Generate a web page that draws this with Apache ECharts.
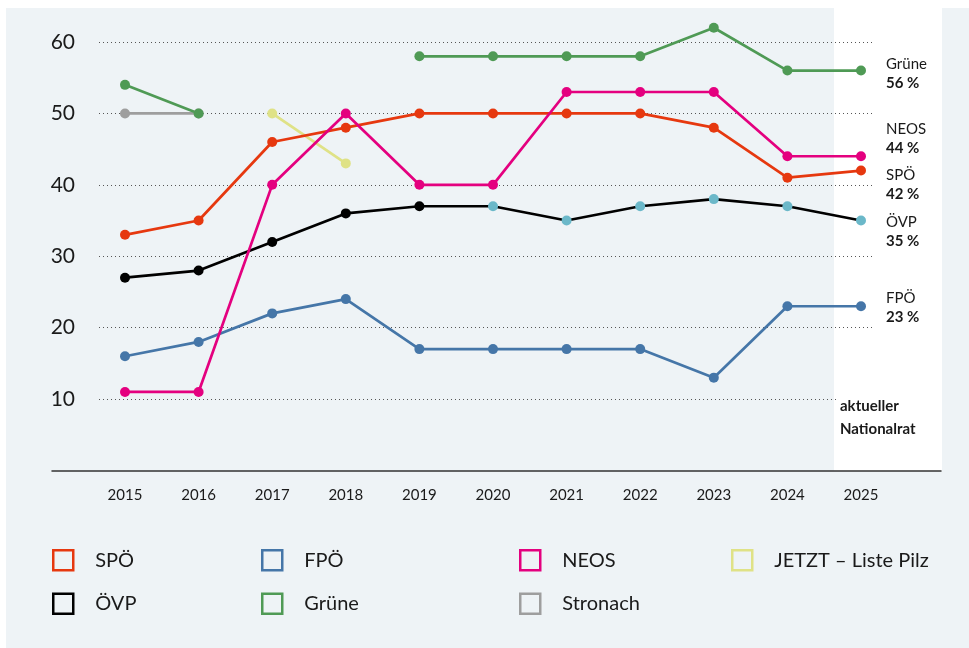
<!DOCTYPE html>
<html>
<head>
<meta charset="utf-8">
<script src="https://cdn.jsdelivr.net/npm/echarts@6/dist/echarts.min.js"></script>
<style>
  html, body { margin: 0; padding: 0; background: #fff; }
  #chart { width: 969px; height: 648px; }
</style>
</head>
<body>
<div id="chart"></div>
<script>
// Umfragewerte je Jahr (Prozent)
const years = ['2015', '2016', '2017', '2018', '2019', '2020', '2021', '2022', '2023', '2024', '2025'];
const spoe = [33, 35, 46, 48, 50, 50, 50, 50, 48, 41, 42];
const oevp = [27, 28, 32, 36, 37, 37, 35, 37, 38, 37, 35];
const fpoe = [16, 18, 22, 24, 17, 17, 17, 17, 13, 23, 23];
const neos = [11, 11, 40, 50, 40, 40, 53, 53, 53, 44, 44];
const gruene = [54, 50, null, null, 58, 58, 58, 58, 62, 56, 56];
const stronach = [50, 50, null, null, null, null, null, null, null, null, null];
const jetzt = [null, null, 50, 43, null, null, null, null, null, null, null];
// ab 2020 türkise Punkte bei der ÖVP
const oevpTuerkisFrom = '2020';

const font = 'Lato';
const textColor = '#1a1a1a';
const colors = {
  'SPÖ': '#e6380f',
  'ÖVP': '#000000',
  'FPÖ': '#4576a8',
  'Grüne': '#4f9a55',
  'NEOS': '#e4007f',
  'Stronach': '#9e9e9e',
  'JETZT – Liste Pilz': '#dfe286'
};
const tuerkis = '#6bb8c9';

// vertikale Versetzung der Endbeschriftungen
const endLabelShift = { 'Grüne': 3, 'NEOS': -18, 'SPÖ': 14, 'ÖVP': 11, 'FPÖ': 1 };

const chart = echarts.init(document.getElementById('chart'), null, { renderer: 'canvas' });

const gridTop = 42, gridBottom = 177.5;

function endLabel(name) {
  return {
    show: true,
    position: 'right',
    distance: 20,
    offset: [0, endLabelShift[name]],
    formatter: p => '{a|' + p.seriesName + '}\n{b|' + p.value + ' %}',
    rich: {
      a: { fontFamily: font, fontSize: 15, color: textColor, lineHeight: 19 },
      b: { fontFamily: font, fontSize: 15, fontWeight: 'bold', color: textColor, lineHeight: 19 }
    }
  };
}

function makeSeries(name, values) {
  const last = values.length - 1;
  const data = values.map((v, i) => {
    const item = { value: v };
    if (name === 'ÖVP' && years[i] >= oevpTuerkisFrom) item.itemStyle = { color: tuerkis };
    if (endLabelShift[name] !== undefined && i === last) item.label = endLabel(name);
    return item;
  });
  return {
    name: name,
    type: 'line',
    xAxisIndex: 1,
    yAxisIndex: 1,
    data: data,
    symbol: 'circle',
    symbolSize: 10,
    showAllSymbol: true,
    clip: false,
    connectNulls: false,
    color: colors[name],
    lineStyle: { width: 2.7, color: colors[name] },
    itemStyle: { color: colors[name] },
    emphasis: { disabled: true }
  };
}

const legendBase = {
  orient: 'vertical',
  top: 549,
  padding: 0,
  icon: 'rect',
  itemWidth: 20,
  itemHeight: 20,
  itemGap: 21,
  selectedMode: false,
  textStyle: { fontFamily: font, fontSize: 20, color: textColor, padding: [0, 0, 0, 17] }
};
function legendCol(left, names) {
  return Object.assign({}, legendBase, {
    left: left,
    data: names.map(n => ({
      name: n,
      itemStyle: { color: 'transparent', borderColor: colors[n], borderWidth: 2.5 }
    }))
  });
}

const option = {
  animation: false,
  backgroundColor: '#ffffff',
  graphic: [
    { type: 'rect', z: -100, shape: { x: 6, y: 8, width: 963, height: 640 }, style: { fill: '#eef3f6' } },
    { type: 'rect', z: -99, shape: { x: 834, y: 0, width: 108, height: 471 }, style: { fill: '#ffffff' } },
    {
      type: 'text', z: 100, x: 837, y: 395,
      style: {
        text: 'aktueller\nNationalrat',
        font: 'bold 15px Lato',
        fill: textColor,
        lineHeight: 23,
        backgroundColor: '#ffffff',
        padding: [0, 2, 0, 3]
      }
    }
  ],
  legend: [
    legendCol(52, ['SPÖ', 'ÖVP']),
    legendCol(261, ['FPÖ', 'Grüne']),
    legendCol(519, ['NEOS', 'Stronach']),
    legendCol(731, ['JETZT – Liste Pilz'])
  ],
  grid: [
    { left: 99, right: 96, top: gridTop, bottom: gridBottom },
    { left: 88.2, right: 71.2, top: gridTop, bottom: gridBottom },
    { left: 52, right: 28, top: gridTop, bottom: gridBottom }
  ],
  xAxis: [
    { gridIndex: 0, type: 'category', data: years, show: false },
    {
      gridIndex: 1, type: 'category', data: years, boundaryGap: true,
      axisLine: { show: false }, axisTick: { show: false },
      axisLabel: { fontFamily: font, fontSize: 15, color: textColor, margin: 17 }
    },
    {
      gridIndex: 2, type: 'value', min: 0, max: 1,
      axisLine: { show: true, lineStyle: { color: '#333', width: 1.5 } },
      axisTick: { show: false }, axisLabel: { show: false }, splitLine: { show: false }
    }
  ],
  yAxis: [
    {
      gridIndex: 0, type: 'value', min: 0, max: 60, interval: 10,
      axisLine: { show: false }, axisTick: { show: false },
      axisLabel: { fontFamily: font, fontSize: 21, color: textColor, margin: 24, showMinLabel: false },
      splitLine: { show: true, showMinLine: false, lineStyle: { type: [1, 3], color: '#555', width: 1 } }
    },
    { gridIndex: 1, type: 'value', min: 0, max: 60, show: false, splitLine: { show: false } },
    { gridIndex: 2, type: 'value', min: 0, max: 1, show: false, splitLine: { show: false } }
  ],
  series: [
    makeSeries('Stronach', stronach),
    makeSeries('JETZT – Liste Pilz', jetzt),
    makeSeries('FPÖ', fpoe),
    makeSeries('ÖVP', oevp),
    makeSeries('SPÖ', spoe),
    makeSeries('NEOS', neos),
    makeSeries('Grüne', gruene)
  ]
};

chart.setOption(option);
</script>
</body>
</html>
